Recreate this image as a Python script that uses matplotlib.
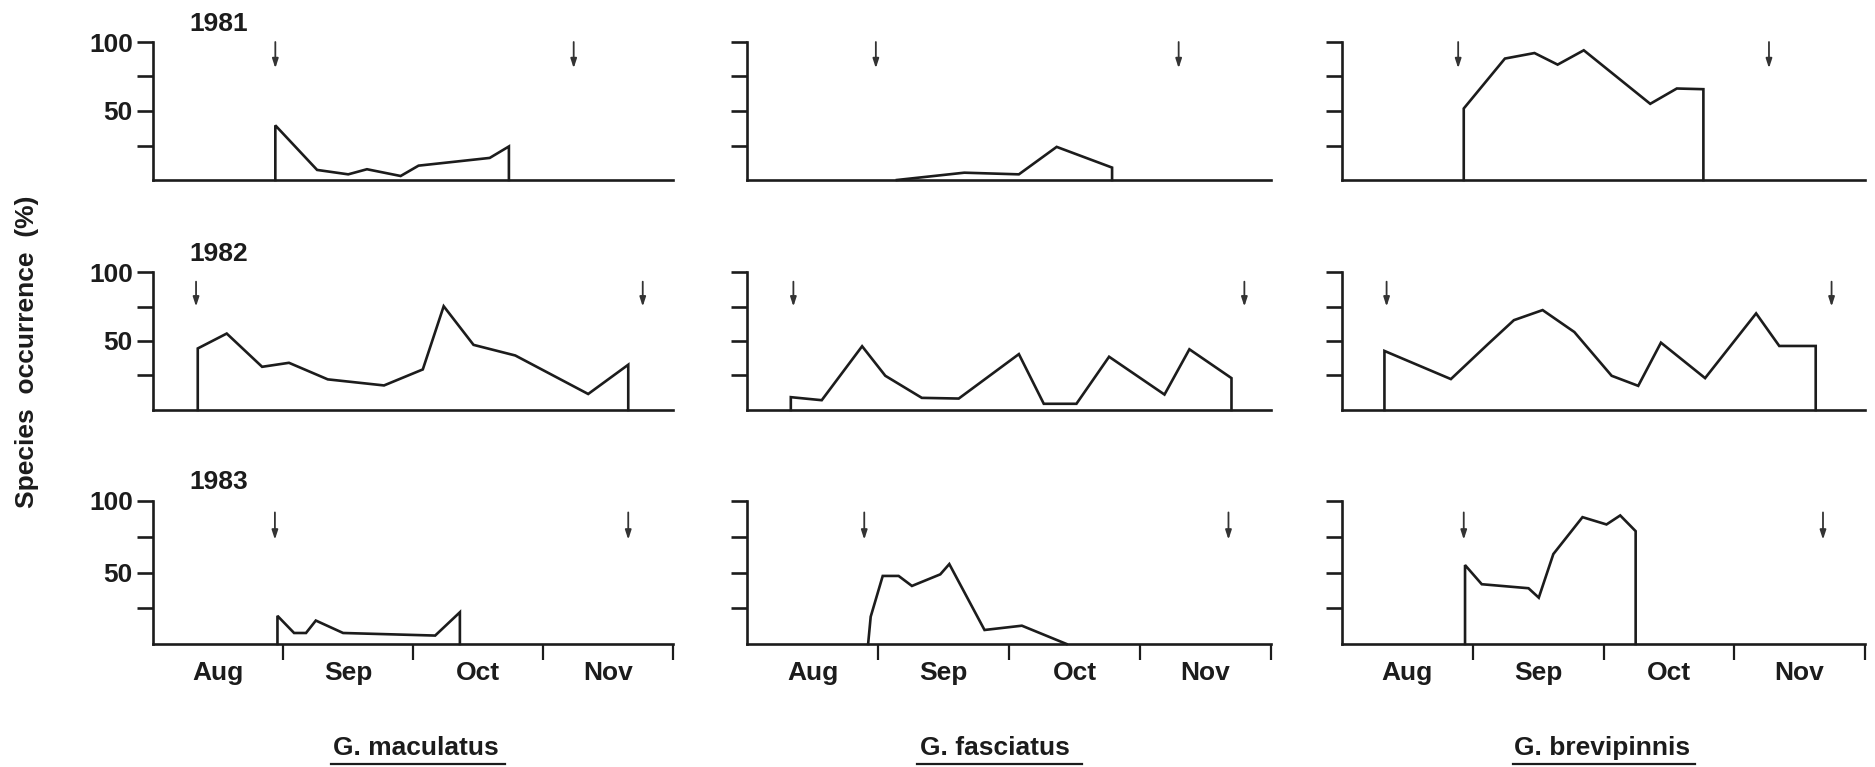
import matplotlib
matplotlib.use("Agg")
import matplotlib.pyplot as plt
from matplotlib.lines import Line2D

# ---------------- data (days counted from 1 Aug) ----------------
months = ['Aug', 'Sep', 'Oct', 'Nov']
month_edges = [0, 30.5, 61, 91.5, 122]
years = ['1981', '1982', '1983']
species = ['G. maculatus', 'G. fasciatus', 'G. brevipinnis']

mac81_day = [28.7, 28.7, 38.5, 45.8, 50.2, 58.1, 62.3, 79.0, 83.5, 83.5]
mac81_pct = [0, 39.6, 7.3, 4.1, 7.8, 2.9, 10.4, 16.0, 24.3, 0]
mac82_day = [10.5, 10.5, 17.3, 25.6, 31.9, 41.0, 54.2, 63.3, 68.2, 75.2, 85.0, 102.1, 111.5, 111.5]
mac82_pct = [0, 44.6, 55.4, 31.3, 34.2, 22.2, 17.8, 29.4, 75.2, 47.2, 39.5, 11.6, 32.8, 0]
mac83_day = [29.2, 29.2, 33.1, 35.9, 38.2, 44.6, 66.2, 72.0, 72.0]
mac83_pct = [0, 19.7, 7.7, 7.7, 16.4, 7.7, 5.9, 22.2, 0]

fas81_day = [34.9, 50.6, 63.3, 72.1, 85.0, 85.0]
fas81_pct = [0, 5.3, 4.1, 24.0, 9.0, 0]
fas82_day = [10.2, 10.2, 17.4, 26.8, 32.2, 40.7, 49.3, 63.3, 69.1, 76.7, 84.3, 97.2, 103.0, 112.8, 112.8]
fas82_pct = [0, 9.3, 7.1, 46.2, 24.8, 8.8, 8.3, 40.5, 4.5, 4.5, 38.6, 11.2, 44.0, 23.1, 0]
fas83_day = [28.2, 28.8, 31.6, 35.3, 38.4, 45.0, 47.1, 55.3, 64.0, 74.4]
fas83_pct = [0, 19.1, 47.6, 47.6, 40.6, 48.7, 55.9, 9.8, 12.8, 0]

bre81_day = [28.4, 28.4, 38.0, 44.9, 50.3, 56.4, 71.9, 78.1, 84.3, 84.3]
bre81_pct = [0, 51.8, 88.0, 92.0, 83.6, 94.0, 55.2, 66.3, 65.8, 0]
bre82_day = [9.9, 9.9, 25.4, 34.0, 40.1, 46.8, 54.2, 62.9, 69.1, 74.4, 84.7, 96.6, 102.0, 110.5, 110.5]
bre82_pct = [0, 42.8, 22.4, 47.6, 65.1, 72.4, 56.5, 24.8, 17.5, 48.8, 23.1, 70.0, 46.4, 46.4, 0]
bre83_day = [28.7, 28.7, 32.6, 43.5, 45.9, 49.3, 56.1, 61.7, 64.9, 68.5, 68.5]
bre83_pct = [0, 55.2, 41.8, 39.0, 32.4, 62.9, 88.7, 83.6, 89.9, 78.9, 0]

# arrows marking start / end of sampling season (days)
mac_arrows = [(28.7, 98.7), (10.1, 114.9), (28.6, 111.5)]
fas_arrows = [(30.0, 100.5), (10.8, 115.8), (27.3, 112.1)]
bre_arrows = [(27.1, 99.6), (10.4, 114.2), (28.4, 112.2)]
arrow_top = [100, 93, 92]
arrow_tip = [81, 75, 73]

series = [
    [(mac81_day, mac81_pct), (mac82_day, mac82_pct), (mac83_day, mac83_pct)],
    [(fas81_day, fas81_pct), (fas82_day, fas82_pct), (fas83_day, fas83_pct)],
    [(bre81_day, bre81_pct), (bre82_day, bre82_pct), (bre83_day, bre83_pct)],
]
arrows = [mac_arrows, fas_arrows, bre_arrows]

# ---------------- layout ----------------
W, H = 1875, 767
col_x = [(153, 673), (747, 1271), (1342, 1865)]
row_y = [(42, 180), (272, 410), (501, 644)]

plt.rcParams['font.family'] = ['Liberation Sans', 'DejaVu Sans']
plt.rcParams['font.weight'] = 'bold'
INK = '#1c1c1c'
FS = 19
LW = 1.9

fig = plt.figure(figsize=(W / 100, H / 100), dpi=100)
fig.patch.set_facecolor('white')

month_centers = [(month_edges[i] + month_edges[i + 1]) / 2 for i in range(4)]

for c in range(3):
    for r in range(3):
        x0, x1 = col_x[c]
        yt, yb = row_y[r]
        ax = fig.add_axes([x0 / W, 1 - yb / H, (x1 - x0) / W, (yb - yt) / H])
        ax.set_xlim(0, 122)
        ax.set_ylim(0, 100)
        for s in ['top', 'right']:
            ax.spines[s].set_visible(False)
        for s in ['left', 'bottom']:
            ax.spines[s].set_linewidth(LW)
            ax.spines[s].set_color(INK)
            ax.spines[s].set_capstyle('projecting')
        d, p = series[c][r]
        ax.plot(d, p, color=INK, lw=LW, solid_joinstyle='miter', clip_on=False)
        for a in arrows[c][r]:
            ax.annotate('', xy=(a, arrow_tip[r]), xytext=(a, arrow_top[r]),
                        arrowprops=dict(arrowstyle='-|>,head_length=0.55,head_width=0.18',
                                        lw=1.3, color='#333333', shrinkA=0, shrinkB=0),
                        annotation_clip=False)
        # y ticks
        ax.set_yticks([25, 50, 75, 100])
        if c == 0:
            ax.set_yticklabels(['', '50', '', '100'], fontsize=FS, color=INK,
                               fontweight='bold')
        else:
            ax.set_yticklabels(['', '', '', ''])
        ax.tick_params(axis='y', direction='out', length=11.5, width=LW, color=INK, pad=3)
        # x ticks
        if r == 2:
            ax.set_xticks(month_edges[1:])
            ax.set_xticklabels([''] * 4)
            ax.tick_params(axis='x', which='major', direction='out', length=11.5,
                           width=1.6, color=INK)
            ax.set_xticks(month_centers, minor=True)
            ax.set_xticklabels(months, minor=True, fontsize=FS, color=INK,
                               fontweight='bold')
            ax.tick_params(axis='x', which='minor', length=0, pad=12)
        else:
            ax.set_xticks([])
        if c == 0:
            ax.text(0.07, 1.13, years[r], transform=ax.transAxes, fontsize=FS,
                    color=INK, ha='left', va='center', fontweight='bold')

# y label
fig.text(27 / W, 1 - 352 / H, 'Species  occurrence  (%)', rotation=90,
         fontsize=FS, color=INK, ha='center', va='center', fontweight='bold')

# species names with underline
name_x = [416, 995, 1602]
for i, nm in enumerate(species):
    fig.text(name_x[i] / W, 1 - 748 / H, nm, fontsize=FS, color=INK,
             ha='center', va='center', fontweight='bold')
ul = [(331, 505), (917, 1082), (1513, 1695)]
for (a, b) in ul:
    fig.add_artist(Line2D([a / W, b / W], [1 - 764 / H, 1 - 764 / H],
                          transform=fig.transFigure, color=INK, lw=1.6))

fig.savefig('out.png', dpi=100, facecolor='white')
